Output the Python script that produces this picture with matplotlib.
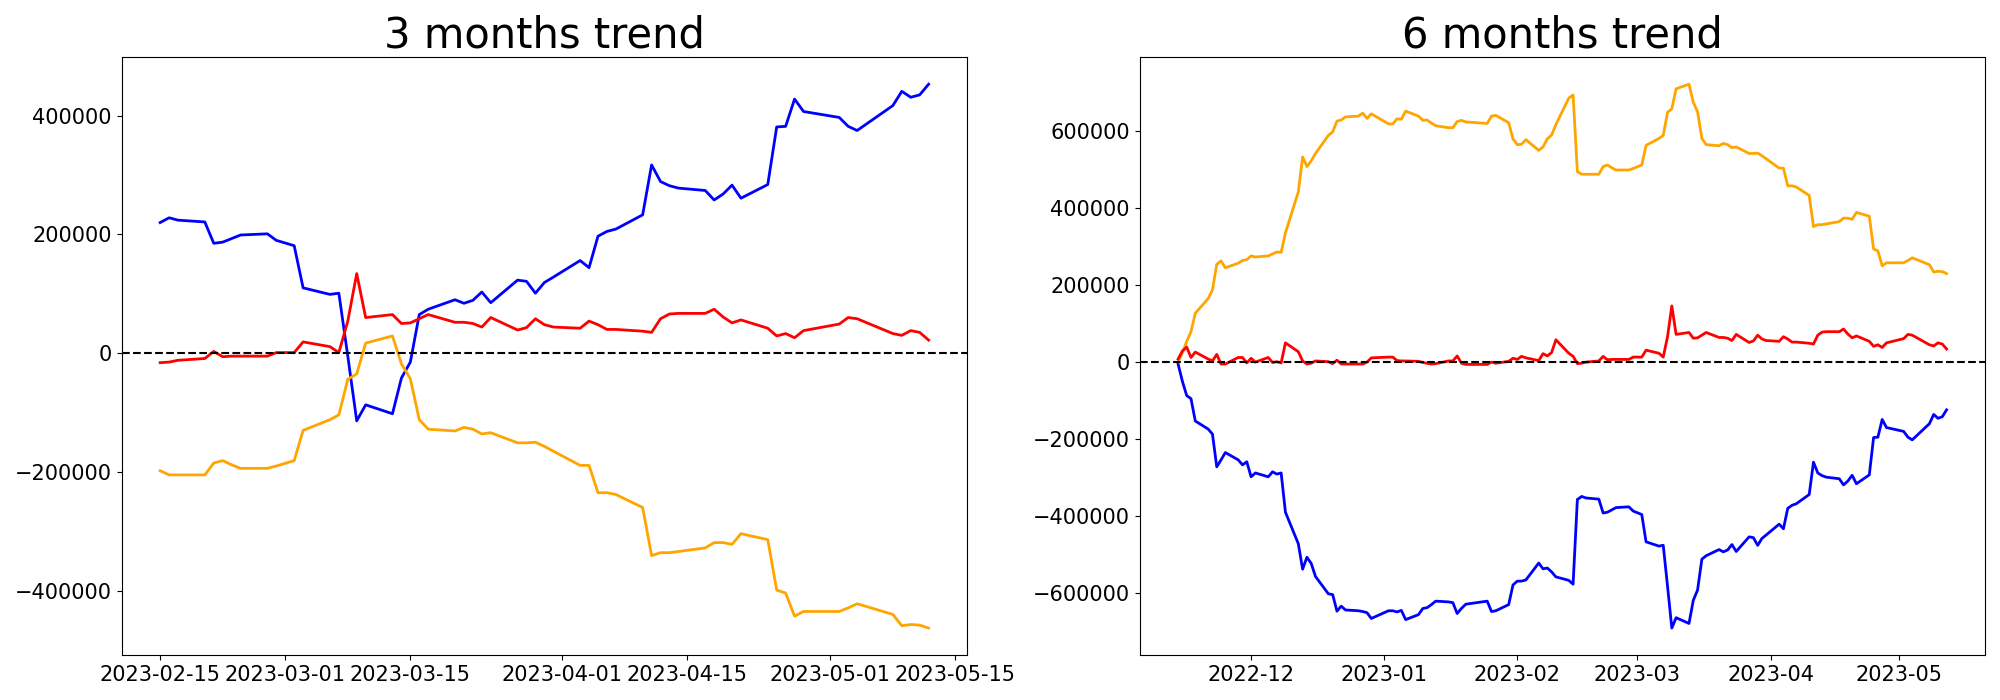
import pandas as pd
import matplotlib
matplotlib.use('Agg')
import matplotlib.pyplot as plt

# 3 months window (cumulative net buying)
dates_3m = ['2023-02-15', '2023-02-16', '2023-02-17', '2023-02-20', '2023-02-21', '2023-02-22',
            '2023-02-23', '2023-02-24', '2023-02-27', '2023-02-28',
            '2023-03-02', '2023-03-03', '2023-03-06', '2023-03-07', '2023-03-08', '2023-03-09',
            '2023-03-10', '2023-03-13', '2023-03-14', '2023-03-15', '2023-03-16', '2023-03-17',
            '2023-03-20', '2023-03-21', '2023-03-22', '2023-03-23', '2023-03-24', '2023-03-27',
            '2023-03-28', '2023-03-29', '2023-03-30', '2023-03-31',
            '2023-04-03', '2023-04-04', '2023-04-05', '2023-04-06', '2023-04-07', '2023-04-10',
            '2023-04-11', '2023-04-12', '2023-04-13', '2023-04-14', '2023-04-17', '2023-04-18',
            '2023-04-19', '2023-04-20', '2023-04-21', '2023-04-24', '2023-04-25', '2023-04-26',
            '2023-04-27', '2023-04-28',
            '2023-05-02', '2023-05-03', '2023-05-04', '2023-05-08', '2023-05-09', '2023-05-10',
            '2023-05-11', '2023-05-12']
blue_3m = [220000, 228000, 224000, 221000, 185000, 187000, 193000, 199000, 201000, 190000,
           181000, 110000, 99000, 101000, -5000, -114000, -87000, -102000, -42000, -15000,
           65000, 74000, 90000, 84000, 89000, 103000, 85000, 123000, 121000, 101000, 119000, 128000,
           156000, 144000, 197000, 205000, 209000, 233000, 317000, 289000, 282000, 278000,
           274000, 258000, 268000, 283000, 261000, 284000, 381000, 382000, 428000, 407000,
           397000, 382000, 375000, 417000, 441000, 431000, 435000, 453000]
red_3m = [-16000, -15000, -12000, -9000, 3000, -6000, -5000, -5000, -5000, 1000,
          1000, 19000, 11000, 1000, 54000, 134000, 60000, 65000, 50000, 51000,
          58000, 65000, 52000, 52000, 50000, 44000, 60000, 39000, 43000, 58000, 48000, 44000,
          42000, 54000, 48000, 40000, 40000, 37000, 35000, 58000, 66000, 67000,
          67000, 74000, 61000, 51000, 56000, 42000, 29000, 33000, 26000, 38000,
          49000, 60000, 58000, 33000, 30000, 38000, 35000, 22000]
orange_3m = [-198000, -205000, -205000, -205000, -185000, -181000, -188000, -194000, -194000, -190000,
             -181000, -130000, -112000, -104000, -44000, -35000, 17000, 29000, -18000, -43000,
             -112000, -128000, -131000, -125000, -128000, -136000, -134000, -151000, -151000,
             -150000, -157000, -165000,
             -189000, -189000, -235000, -235000, -238000, -260000, -341000, -336000, -336000,
             -334000, -328000, -319000, -319000, -322000, -304000, -314000, -399000, -404000,
             -443000, -435000,
             -435000, -429000, -422000, -440000, -459000, -457000, -458000, -463000]

# 6 months window
dates_6m = ['2022-11-14', '2022-11-15', '2022-11-16', '2022-11-17', '2022-11-18', '2022-11-21',
            '2022-11-22', '2022-11-23', '2022-11-24', '2022-11-25', '2022-11-28', '2022-11-29',
            '2022-11-30',
            '2022-12-01', '2022-12-02', '2022-12-05', '2022-12-06', '2022-12-07', '2022-12-08',
            '2022-12-09', '2022-12-12', '2022-12-13', '2022-12-14', '2022-12-15', '2022-12-16',
            '2022-12-19', '2022-12-20', '2022-12-21', '2022-12-22', '2022-12-23', '2022-12-26',
            '2022-12-27', '2022-12-28', '2022-12-29',
            '2023-01-02', '2023-01-03', '2023-01-04', '2023-01-05', '2023-01-06', '2023-01-09',
            '2023-01-10', '2023-01-11', '2023-01-12', '2023-01-13', '2023-01-16', '2023-01-17',
            '2023-01-18', '2023-01-19', '2023-01-20', '2023-01-25', '2023-01-26', '2023-01-27',
            '2023-01-30', '2023-01-31',
            '2023-02-01', '2023-02-02', '2023-02-03', '2023-02-06', '2023-02-07', '2023-02-08',
            '2023-02-09', '2023-02-10', '2023-02-13', '2023-02-14'] + dates_3m
blue_6m = [-6000, -51000, -88000, -96000, -154000, -175000, -188000, -273000, -255000, -236000,
           -255000, -268000, -260000,
           -299000, -289000, -299000, -286000, -292000, -289000, -391000, -473000, -539000,
           -508000, -524000, -558000, -603000, -605000, -648000, -635000, -645000, -647000,
           -649000, -652000, -667000,
           -647000, -647000, -650000, -646000, -670000, -657000, -641000, -639000, -631000,
           -622000, -624000, -626000, -654000, -641000, -630000, -622000, -649000, -647000,
           -631000, -580000,
           -570000, -570000, -567000, -523000, -538000, -536000, -546000, -559000, -568000, -578000,
           -358000, -350000, -354000, -357000, -393000, -391000, -385000, -379000, -377000, -388000,
           -397000, -468000, -479000, -477000, -583000, -692000, -665000, -680000, -620000, -593000,
           -513000, -504000, -488000, -494000, -489000, -475000, -493000, -455000, -457000,
           -477000, -459000, -450000,
           -422000, -434000, -381000, -373000, -369000, -345000, -261000, -289000, -296000,
           -300000, -304000, -320000, -310000, -295000, -317000, -294000, -197000, -196000,
           -150000, -171000,
           -181000, -196000, -203000, -161000, -137000, -147000, -143000, -125000]
red_6m = [7000, 28000, 38000, 11000, 25000, 7000, 2000, 19000, -6000, -6000, 11000, 11000, -3000,
          9000, -1000, 11000, -2000, 0, -3000, 49000, 26000, 2000, -6000, -4000, 2000, 0, -5000,
          4000, -6000, -6000, -6000, -6000, -1000, 10000,
          12000, 12000, 3000, 2000, 2000, 1000, -2000, -4000, -6000, -5000, 2000, 2000, 15000,
          -4000, -7000, -7000, -1000, -4000, 1000, 9000,
          6000, 14000, 10000, 3000, 21000, 15000, 24000, 57000, 22000, 14000,
          -5000, -4000, -1000, 2000, 14000, 5000, 6000, 6000, 6000, 12000,
          12000, 30000, 22000, 12000, 65000, 145000, 71000, 76000, 61000, 62000, 69000, 76000,
          63000, 63000, 61000, 55000, 71000, 50000, 54000, 69000, 59000, 55000,
          53000, 65000, 59000, 51000, 51000, 48000, 46000, 69000, 77000, 78000, 78000, 85000,
          72000, 62000, 67000, 53000, 40000, 44000, 37000, 49000,
          60000, 71000, 69000, 44000, 41000, 49000, 46000, 33000]
orange_6m = [0, 23000, 53000, 78000, 126000, 164000, 187000, 253000, 262000, 244000, 256000,
             263000, 265000,
             275000, 272000, 275000, 280000, 285000, 284000, 335000, 441000, 532000, 507000,
             522000, 541000, 588000, 597000, 625000, 628000, 636000, 638000, 646000, 632000, 644000,
             618000, 618000, 631000, 630000, 651000, 638000, 627000, 628000, 620000, 613000,
             608000, 608000, 624000, 627000, 623000, 619000, 638000, 640000, 621000, 579000,
             564000, 565000, 577000, 549000, 558000, 579000, 589000, 616000, 685000, 693000,
             494000, 487000, 487000, 487000, 507000, 511000, 504000, 498000, 498000, 502000,
             511000, 562000, 580000, 588000, 648000, 657000, 709000, 721000, 674000, 649000,
             580000, 564000, 561000, 567000, 564000, 556000, 558000, 541000, 541000, 542000,
             535000, 527000,
             503000, 503000, 457000, 457000, 454000, 432000, 351000, 356000, 356000, 358000,
             364000, 373000, 373000, 370000, 388000, 378000, 293000, 288000, 249000, 257000,
             257000, 263000, 270000, 252000, 233000, 235000, 234000, 229000]

fig, axes = plt.subplots(1, 2, figsize=(20, 7))

panels = [(axes[0], '3 months trend', dates_3m, blue_3m, red_3m, orange_3m),
          (axes[1], '6 months trend', dates_6m, blue_6m, red_6m, orange_6m)]

for ax, title, dates, blue, red, orange in panels:
    x = pd.to_datetime(dates)
    ax.plot(x, blue, color='blue', lw=2)
    ax.plot(x, orange, color='orange', lw=2)
    ax.plot(x, red, color='red', lw=2)
    ax.axhline(0, color='black', linestyle='--', lw=1.5)
    ax.set_title(title, fontsize=30)
    ax.tick_params(labelsize=15)

plt.tight_layout()
plt.savefig('out.png', dpi=100)
